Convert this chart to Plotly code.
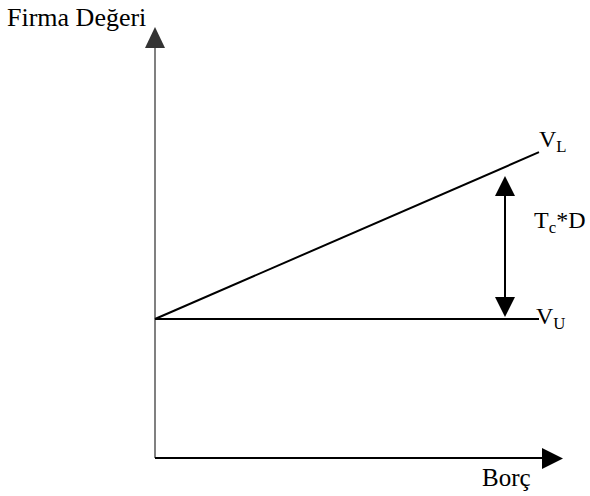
import plotly.graph_objects as go

# Diagram values (debt on x, firm value on y)
debt = [0, 10]
v_unlevered = [100, 100]
v_levered = [100, 220]
labels = {"y": "Firma Değeri", "x": "Borç", "vl": "V<sub>L</sub>", "vu": "V<sub>U</sub>", "tax": "T<sub>c</sub>*D"}

W, H = 590, 496
X0, Y0 = 155, 458          # pixel position of origin
SX, SY = 38.4, 1.39        # pixels per data unit

def px_x(p):
    return (p - X0) / SX

def px_y(p):
    return (Y0 - p) / SY

FONT = "Liberation Serif"

fig = go.Figure()

# y axis (gray) and its arrowhead
fig.add_trace(go.Scatter(x=[0, 0], y=[0, px_y(46)], mode="lines",
                         line=dict(color="#808080", width=2), hoverinfo="skip"))
fig.add_trace(go.Scatter(x=[px_x(145), px_x(155), px_x(165), px_x(145)],
                         y=[px_y(48), px_y(27), px_y(48), px_y(48)],
                         fill="toself", fillcolor="#333333", mode="lines",
                         line=dict(width=0, color="#333333"), hoverinfo="skip"))
# x axis (black) and arrowhead
fig.add_trace(go.Scatter(x=[0, px_x(544)], y=[0, 0], mode="lines",
                         line=dict(color="black", width=2), hoverinfo="skip"))
fig.add_trace(go.Scatter(x=[px_x(542), px_x(563), px_x(542), px_x(542)],
                         y=[px_y(448), px_y(458.5), px_y(469), px_y(448)],
                         fill="toself", fillcolor="black", mode="lines",
                         line=dict(width=0, color="black"), hoverinfo="skip"))

# V_U and V_L lines
fig.add_trace(go.Scatter(x=debt, y=v_unlevered, mode="lines",
                         line=dict(color="black", width=2), hoverinfo="skip"))
fig.add_trace(go.Scatter(x=debt, y=v_levered, mode="lines",
                         line=dict(color="black", width=2), hoverinfo="skip"))

# double arrow for tax shield
ax = px_x(505)
fig.add_trace(go.Scatter(x=[ax, ax], y=[px_y(195), px_y(298)], mode="lines",
                         line=dict(color="black", width=2), hoverinfo="skip"))
fig.add_trace(go.Scatter(x=[px_x(495), ax, px_x(515), px_x(495)],
                         y=[px_y(196), px_y(176), px_y(196), px_y(196)],
                         fill="toself", fillcolor="black", mode="lines",
                         line=dict(width=0, color="black"), hoverinfo="skip"))
fig.add_trace(go.Scatter(x=[px_x(495), ax, px_x(515), px_x(495)],
                         y=[px_y(297), px_y(317), px_y(297), px_y(297)],
                         fill="toself", fillcolor="black", mode="lines",
                         line=dict(width=0, color="black"), hoverinfo="skip"))

def label(text, x, y, size):
    fig.add_annotation(text=text, x=x / W, y=1 - y / H, xref="paper", yref="paper",
                       xanchor="left", yanchor="middle", showarrow=False,
                       font=dict(family=FONT, size=size, color="black"))

label(labels["y"], 5, 18, 26)
label(labels["x"], 480, 477, 25)
label(labels["vl"], 537, 141, 24)
label(labels["vu"], 534, 318, 24)
label(labels["tax"], 532, 222, 24)

fig.update_layout(width=W, height=H, margin=dict(l=0, r=0, t=0, b=0),
                  plot_bgcolor="white", paper_bgcolor="white", showlegend=False,
                  xaxis=dict(range=[px_x(0), px_x(W)], visible=False, fixedrange=True),
                  yaxis=dict(range=[px_y(H), px_y(0)], visible=False, fixedrange=True))

fig.write_html("out.html", config={"displayModeBar": False},
               post_script="document.body.style.margin='0';document.body.style.overflow='hidden';")
